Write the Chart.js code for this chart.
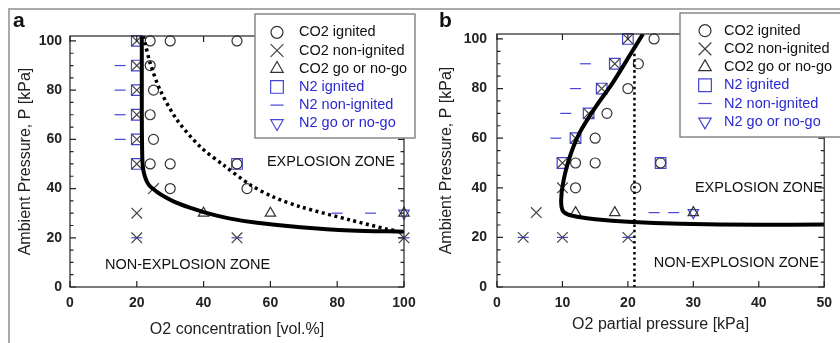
<!DOCTYPE html>
<html>
<head>
<meta charset="utf-8">
<script src="https://cdn.jsdelivr.net/npm/chart.js@4/dist/chart.umd.min.js"></script>
<style>
  html, body { margin: 0; padding: 0; background: #fff; }
  #page { position: relative; width: 840px; height: 343px; overflow: hidden; }
  #frame { position: absolute; left: 8px; top: 8px; width: 900px; height: 400px;
           border-top: 2.5px solid #aaa; border-left: 2.5px solid #aaa; }
  .panel { position: absolute; top: 0; height: 343px; }
  #panelA { left: 0; width: 430px; }
  #panelB { left: 430px; width: 410px; }
</style>
</head>
<body>
<div id="page">
  <div id="frame"></div>
  <div class="panel" id="panelA"><canvas id="chartA" width="430" height="343"></canvas></div>
  <div class="panel" id="panelB"><canvas id="chartB" width="410" height="343"></canvas></div>
</div>
<script>
// ---- data ----
const Y_TICKS = [0, 20, 40, 60, 80, 100];
const Y_MINOR = [5, 10, 15, 25, 30, 35, 45, 50, 55, 65, 70, 75, 85, 90, 95];
const A_X_TICKS = [0, 20, 40, 60, 80, 100];
const B_X_TICKS = [0, 10, 20, 30, 40, 50];
const LABELS = ['CO2 ignited', 'CO2 non-ignited', 'CO2 go or no-go',
                'N2 ignited', 'N2 non-ignited', 'N2 go or no-go'];

// panel a: O2 concentration [vol.%] vs ambient pressure [kPa]
const A_CO2_IGNITED = [[24,100],[30,100],[50,100],[24,90],[25,80],[24,70],[25,60],
                       [24,50],[30,50],[50,50],[30,40],[53,40]];
const A_CO2_NON = [[20,100],[20,90],[20,80],[20,70],[20,60],[20,50],[25,40],
                   [20,30],[20,20],[50,20],[100,20]];
const A_CO2_GO = [[40,30],[60,30],[100,30]];
const A_N2_IGNITED = [[20,100],[20,90],[20,80],[20,70],[20,60],[20,50],[50,50]];
const A_N2_NON = [[15,90],[15,80],[15,70],[15,60],[20,20],[50,20],[100,20],[80,30],[90,30]];
const A_N2_GO = [[100,30]];
const A_LIMIT = [[21.5,102],[21.5,70],[21.6,55],[21.8,49],[22.4,45],[23.6,41.5],[26,38.7],
                 [29,36.2],[32,34.2],[36,32.2],[40,30.4],[48,27.8],[56,26.1],[69,24.3],
                 [84,23],[100,22.5]];
const A_LIMIT_DOTTED = [[22,102],[22.5,99],[24,91],[27,80],[32,68],[39,57],[46,49.5],
                        [54,41.5],[61,36.5],[69,32.6],[84,27.2],[95,23.5],[98,22.8]];

// panel b: O2 partial pressure [kPa] vs ambient pressure [kPa]
const B_CO2_IGNITED = [[24,100],[30,100],[50,100],[21.6,90],[20,80],[16.8,70],[15,60],
                       [12,50],[15,50],[25,50],[12,40],[21.2,40]];
const B_CO2_NON = [[20,100],[18,90],[16,80],[14,70],[12,60],[10,50],[10,40],[6,30],
                   [4,20],[10,20],[20,20]];
const B_CO2_GO = [[12,30],[18,30],[30,30]];
const B_N2_IGNITED = [[20,100],[18,90],[16,80],[14,70],[12,60],[10,50],[25,50]];
const B_N2_NON = [[13.5,90],[12,80],[10.5,70],[9,60],[4,20],[10,20],[20,20],[24,30],[27,30]];
const B_N2_GO = [[30,30]];
const B_LIMIT = [[22.3,102],[20.2,93],[17.6,82],[15.1,72.7],[12.6,62],[11,51.5],[10.1,42],
                 [9.8,35],[10,31],[10.8,29.3],[12.5,28.2],[15,27.3],[20,26.3],[28,25.5],
                 [40,25.1],[50,25.2]];
const B_O2_LINE = [[21,94],[21,0]];

// ---- styles ----
const FONT = '"Liberation Sans", Arial, Helvetica, sans-serif';
const INK = '#222';
const BLUE = '#4646d6';
const BLUE_TEXT = '#2a2ad2';
const MARKERS = [
  { style: 'circle',   r: 5,   rot: 0,   color: '#333' },
  { style: 'crossRot', r: 7.5, rot: 0,   color: '#444' },
  { style: 'triangle', r: 6,   rot: 0,   color: '#333' },
  { style: 'rect',     r: 7.5, rot: 0,   color: BLUE },
  { style: 'line',     r: 5.5, rot: 0,   color: BLUE },
  { style: 'triangle', r: 6,   rot: 180, color: BLUE }
];

const pts = arr => arr.map(([x, y]) => ({ x, y }));

function markerSet(i, data) {
  const m = MARKERS[i];
  return {
    label: LABELS[i], data: pts(data), inLegend: true,
    textColor: i < 3 ? '#111' : BLUE_TEXT,
    pointStyle: m.style, pointRadius: m.r, pointRotation: m.rot,
    borderColor: m.color, backgroundColor: 'rgba(0,0,0,0)',
    pointBorderWidth: 1.2, showLine: false, clip: false, order: 2
  };
}

function lineSet(data, width, dash) {
  return {
    data: pts(data), showLine: true, pointRadius: 0, borderColor: '#000',
    borderWidth: width, borderDash: dash, borderCapStyle: 'butt',
    tension: 0.3, fill: false, order: 1
  };
}

// decorations: plot frame, inward ticks, zone labels, panel letter, legend box
const deco = {
  id: 'deco',
  afterDraw(chart, args, o) {
    const ctx = chart.ctx;
    const { left, right, top, bottom } = chart.chartArea;
    const xs = chart.scales.x, ys = chart.scales.y;
    ctx.save();
    ctx.strokeStyle = INK;
    ctx.lineWidth = 1.2;
    ctx.strokeRect(left, top, right - left, bottom - top);
    ctx.beginPath();
    o.xTicks.forEach(v => {
      const px = xs.getPixelForValue(v);
      ctx.moveTo(px, bottom); ctx.lineTo(px, bottom - 6);
      ctx.moveTo(px, top); ctx.lineTo(px, top + 6);
    });
    Y_TICKS.concat(Y_MINOR).forEach(v => {
      const py = ys.getPixelForValue(v);
      const len = Y_TICKS.includes(v) ? 6 : 3.5;
      ctx.moveTo(left, py); ctx.lineTo(left + len, py);
      ctx.moveTo(right, py); ctx.lineTo(right - len, py);
    });
    ctx.stroke();

    ctx.fillStyle = '#111';
    ctx.textBaseline = 'middle';
    ctx.font = '14.5px ' + FONT;
    o.zones.forEach(z => {
      ctx.textAlign = z.align;
      ctx.fillText(z.text, z.x, z.y);
    });
    ctx.font = 'bold 21px ' + FONT;
    ctx.textAlign = 'left';
    ctx.fillText(o.letter[0], o.letter[1], o.letter[2]);

    const L = o.legend;
    ctx.fillStyle = '#fff';
    ctx.fillRect(L.x, L.y, L.w, L.h);
    ctx.strokeStyle = '#777';
    ctx.lineWidth = 1.3;
    ctx.strokeRect(L.x, L.y, L.w, L.h);
    ctx.font = '14.5px ' + FONT;
    chart.data.datasets.filter(d => d.inLegend).forEach((d, i) => {
      const cy = L.row0 + i * L.step;
      ctx.strokeStyle = d.borderColor;
      ctx.fillStyle = 'rgba(0,0,0,0)';
      ctx.lineWidth = 1.2;
      Chart.helpers.drawPoint(ctx, {
        pointStyle: d.pointStyle, radius: d.pointRadius * 1.2,
        rotation: d.pointRotation, borderWidth: 1.2
      }, L.symX, cy);
      ctx.fillStyle = d.textColor;
      ctx.textAlign = 'left';
      ctx.fillText(d.label, L.textX, cy);
    });
    ctx.restore();
  }
};

function makeChart(id, cfg) {
  const tickFont = { family: FONT, size: 14, weight: 'bold' };
  const titleFont = { family: FONT, size: 16 };
  return new Chart(document.getElementById(id), {
    type: 'scatter',
    data: { datasets: cfg.datasets },
    options: {
      animation: false, responsive: false, events: [],
      layout: { padding: { top: cfg.top, right: cfg.right, left: 0, bottom: 0 } },
      plugins: {
        legend: { display: false }, tooltip: { enabled: false },
        deco: { xTicks: cfg.xTicks, zones: cfg.zones, letter: cfg.letter, legend: cfg.legend }
      },
      scales: {
        x: {
          type: 'linear', min: 0, max: cfg.xMax,
          afterBuildTicks: s => { s.ticks = cfg.xTicks.map(v => ({ value: v })); },
          afterFit: s => { s.height = 56; },
          grid: { display: false, drawTicks: false }, border: { display: false },
          ticks: { font: tickFont, color: INK, padding: 8, maxRotation: 0 },
          title: { display: true, text: cfg.xTitle, font: titleFont, color: INK,
                   padding: { top: 0, bottom: cfg.xTitlePad } }
        },
        y: {
          type: 'linear', min: 0, max: 102,
          afterBuildTicks: s => { s.ticks = Y_TICKS.map(v => ({ value: v })); },
          afterFit: s => { s.width = cfg.yWidth; },
          grid: { display: false, drawTicks: false }, border: { display: false },
          ticks: { font: tickFont, color: INK, padding: cfg.yTickPad },
          title: { display: true, text: 'Ambient Pressure, P [kPa]', font: titleFont, color: INK,
                   padding: { top: cfg.yTitlePad, bottom: 0 } }
        }
      }
    },
    plugins: [deco]
  });
}

makeChart('chartA', {
  datasets: [
    lineSet(A_LIMIT, 4, []),
    lineSet(A_LIMIT_DOTTED, 3.5, [3, 3.5]),
    markerSet(0, A_CO2_IGNITED), markerSet(1, A_CO2_NON), markerSet(2, A_CO2_GO),
    markerSet(3, A_N2_IGNITED), markerSet(4, A_N2_NON), markerSet(5, A_N2_GO)
  ],
  xMax: 100, xTicks: A_X_TICKS, xTitle: 'O2 concentration [vol.%]',
  top: 36, right: 26, yWidth: 70, yTickPad: 8, yTitlePad: 16.4, xTitlePad: 3.4,
  zones: [
    { text: 'EXPLOSION ZONE', x: 395, y: 162, align: 'right' },
    { text: 'NON-EXPLOSION ZONE', x: 105, y: 265, align: 'left' }
  ],
  letter: ['a', 13, 21],
  legend: { x: 255, y: 14, w: 160, h: 124, symX: 277, textX: 299, row0: 32.3, step: 18.2 }
});

makeChart('chartB', {
  datasets: [
    lineSet(B_LIMIT, 4, []),
    lineSet(B_O2_LINE, 2.5, [2.5, 3]),
    markerSet(0, B_CO2_IGNITED), markerSet(1, B_CO2_NON), markerSet(2, B_CO2_GO),
    markerSet(3, B_N2_IGNITED), markerSet(4, B_N2_NON), markerSet(5, B_N2_GO)
  ],
  xMax: 50, xTicks: B_X_TICKS, xTitle: 'O2 partial pressure [kPa]',
  top: 34, right: 12, yWidth: 67, yTickPad: 10, yTitlePad: 7.4, xTitlePad: 9,
  zones: [
    { text: 'EXPLOSION ZONE', x: 393, y: 188, align: 'right' },
    { text: 'NON-EXPLOSION ZONE', x: 389, y: 263, align: 'right' }
  ],
  letter: ['b', 9, 21],
  legend: { x: 250, y: 13, w: 165, h: 124, symX: 275, textX: 294, row0: 30.7, step: 18.2 }
});
</script>
</body>
</html>
